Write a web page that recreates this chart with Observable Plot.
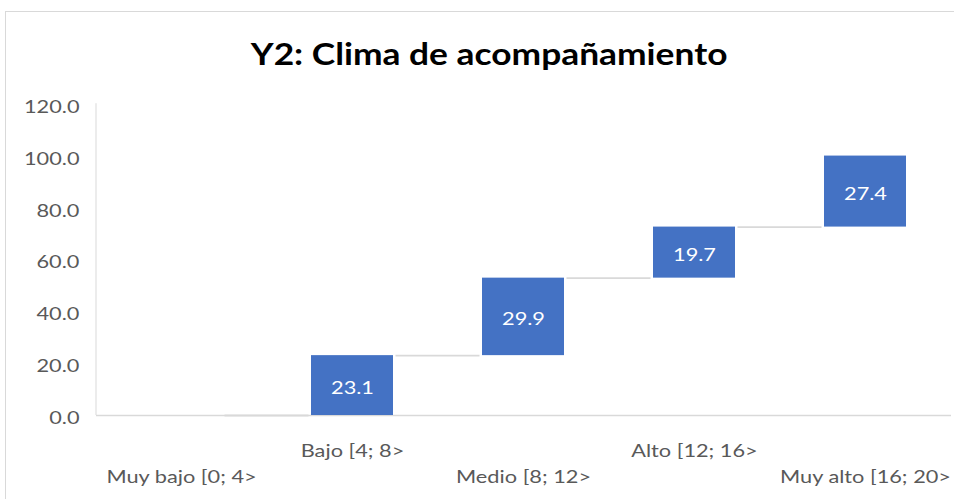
<!DOCTYPE html>
<html>
<head>
<meta charset="utf-8">
<script src="https://cdn.jsdelivr.net/npm/d3@7"></script>
<script src="https://cdn.jsdelivr.net/npm/@observablehq/plot@0.6"></script>
<style>
  html, body { margin: 0; padding: 0; background: #fff; overflow: hidden; }
  #frame { position: absolute; left: 5px; top: 11px; width: 960px; height: 500px;
           border-left: 1px solid #d9d9d9; border-top: 1px solid #d9d9d9; }
  #title { height: 78px; width: 948px; text-align: center; font-family: Lato, sans-serif;
           font-weight: bold; font-size: 31px; color: #000; line-height: 78px; }
  #title span { display: inline-block; position: relative; left: 9px; top: 2px; transform: scaleX(1.14); }
</style>
</head>
<body>
<div id="frame">
  <div id="title"><span>Y2: Clima de acompañamiento</span></div>
  <div id="chart"></div>
</div>
<script>
const categories = ["Muy bajo [0; 4>", "Bajo [4; 8>", "Medio [8; 12>", "Alto [12; 16>", "Muy alto [16; 20>"];
const values = [0, 23.1, 29.9, 19.7, 27.4];
const yTicks = [0, 20, 40, 60, 80, 100, 120];

let acc = 0;
const rows = categories.map((c, i) => {
  const start = acc;
  acc = +(acc + values[i]).toFixed(1);
  return {cat: c, value: values[i], start, end: acc, index: i};
});
const bars = rows.filter(d => d.value > 0);
const connectors = rows.slice(0, -1);
const row1 = categories.filter((d, i) => i % 2 === 1);
const row2 = categories.filter((d, i) => i % 2 === 0);

const font = "Lato, sans-serif";
const chart = Plot.plot({
  width: 948,
  height: 409,
  marginTop: 14,
  marginBottom: 84,
  marginLeft: 90,
  marginRight: 3,
  style: {fontFamily: font, fontSize: "17px", color: "#595959", background: "#fff"},
  x: {domain: categories, paddingInner: 0.52, paddingOuter: 0.26, axis: null},
  y: {domain: [0, 120], axis: null},
  marks: [
    Plot.ruleX([0], {x: () => categories[0], y1: 0, y2: 120.3, dx: -85.5, stroke: "#d9d9d9", strokeWidth: 1}),
    Plot.ruleY([0], {stroke: "#d9d9d9", strokeWidth: 1.5}),
    Plot.axisY(yTicks, {tickSize: 0, tickPadding: 17, tickFormat: d => d.toFixed(1), fill: "#595959", fontSize: 17, label: null, dy: 3}),
    Plot.axisX(row1, {tickSize: 0, tickPadding: 0, dy: 29, fill: "#595959", fontSize: 17, label: null, textAnchor: "middle"}),
    Plot.axisX(row2, {tickSize: 0, tickPadding: 0, dy: 55, fill: "#595959", fontSize: 17, label: null, textAnchor: "middle"}),
    Plot.tickY(connectors, {x: "cat", y: "end", dx: 85.5, insetLeft: -1, insetRight: -1, stroke: "#d9d9d9", strokeWidth: 1.8}),
    Plot.barY(bars, {x: "cat", y1: "start", y2: "end", fill: "#4472C4"}),
    Plot.text(bars, {x: "cat", y: d => (d.start + d.end) / 2, text: d => d.value.toFixed(1), fill: "#fff", fontSize: 17, dy: 3})
  ]
});
document.getElementById("chart").appendChild(chart);

// widen glyphs horizontally around each text's own anchor point
const sx = 1.28;
chart.querySelectorAll("text").forEach(t => {
  const xa = t.getAttribute("x");
  const X = xa != null && isFinite(+xa) ? +xa : 0;
  const T = t.getAttribute("transform") || "";
  t.setAttribute("transform", `${T} translate(${X},0) scale(${sx},1) translate(${-X},0)`.trim());
});
</script>
</body>
</html>
